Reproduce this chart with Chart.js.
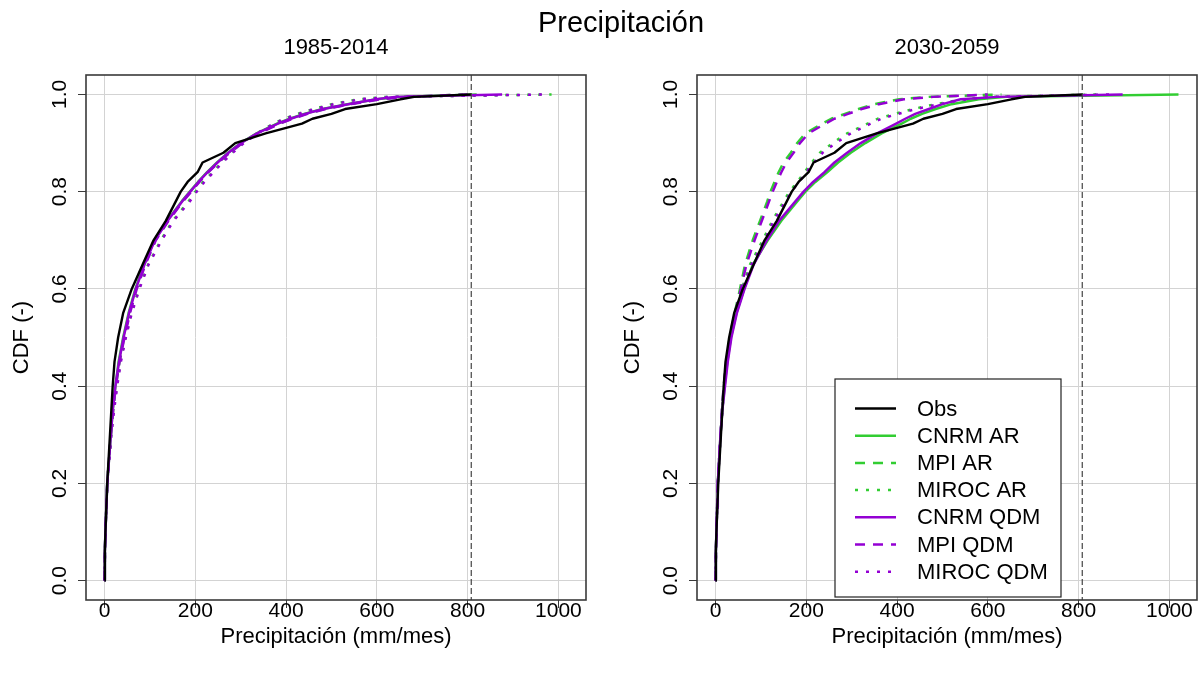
<!DOCTYPE html>
<html>
<head>
<meta charset="utf-8">
<script src="https://cdn.jsdelivr.net/npm/chart.js@4.4.1/dist/chart.umd.min.js"></script>
<style>
  body { margin: 0; background: #fff; font-family: "Liberation Sans", Arial, sans-serif; }
  #wrap { position: relative; width: 1200px; height: 679px; overflow: hidden; }
  .panel { position: absolute; top: 0; height: 679px; }
  #left { left: 0; width: 600px; }
  #right { left: 611px; width: 589px; }
  .ttl { position: absolute; transform: translate(-50%, -50%); white-space: nowrap; color: #000; }
</style>
</head>
<body>
<div id="wrap">
  <div class="panel" id="left"><canvas id="cLeft" width="600" height="679"></canvas></div>
  <div class="panel" id="right"><canvas id="cRight" width="589" height="679"></canvas></div>
  <div class="ttl" id="mainTitle" style="left:621px;top:22px;font-size:29px"></div>
  <div class="ttl" id="subLeft" style="left:336px;top:47px;font-size:22px"></div>
  <div class="ttl" id="subRight" style="left:947px;top:47px;font-size:22px"></div>
</div>
<script>
// ECDF of monthly precipitation, obs vs bias-corrected GCMs
const MAIN_TITLE = 'Precipitación';
const PANEL_TITLES = ['1985-2014', '2030-2059'];
const X_TITLE = 'Precipitación (mm/mes)';
const Y_TITLE = 'CDF (-)';
const X_TICKS = [0, 200, 400, 600, 800, 1000];
const Y_TICKS = [0, 0.2, 0.4, 0.6, 0.8, 1.0];
const SERIES_NAMES = ['Obs', 'CNRM AR', 'MPI AR', 'MIROC AR', 'CNRM QDM', 'MPI QDM', 'MIROC QDM'];

// cumulative probability levels; every series below gives precip (mm/mes) at these levels
const P = [0, 0.03, 0.06, 0.1, 0.15, 0.2, 0.25, 0.3, 0.35, 0.4, 0.45, 0.5, 0.55, 0.6, 0.65, 0.7, 0.74, 0.78,
           0.8, 0.82, 0.84, 0.86, 0.88, 0.9, 0.92, 0.94, 0.95, 0.96, 0.97, 0.98, 0.99, 0.995, 1.0];

// observations (same in both panels)
const OBS = [0, 0.5, 1, 2, 4, 6, 9, 12, 15, 18, 22, 30, 41, 60, 84, 108, 135, 157,
             168, 183, 205, 216, 262, 288, 355, 435, 458, 500, 530, 600, 652, 682, 808];

// 1985-2014
const H_CNRM_AR  = [0, 0.5, 1, 2, 4, 6, 10, 14, 18, 24, 31, 41, 53, 68, 87, 110, 138, 170,
                    188, 206, 226, 248, 272, 300, 335, 380, 408, 440, 480, 535, 600, 650, 820];
const H_MPI_AR   = [0, 0.5, 1, 2, 4, 6, 10, 14, 19, 25, 33, 43, 55, 70, 89, 112, 140, 172,
                    190, 208, 228, 250, 275, 303, 338, 385, 412, 445, 485, 540, 605, 660, 790];
const H_MIROC_AR = [0, 0.5, 1, 2, 4, 6.5, 11, 15, 20, 27, 35, 46, 59, 76, 96, 124, 150, 185,
                    200, 217, 238, 258, 280, 305, 335, 372, 395, 425, 460, 500, 560, 620, 985];
const H_CNRM_QDM = [0, 0.5, 1, 2, 4, 6, 10, 14, 18, 24, 32, 42, 54, 69, 88, 111, 139, 171,
                    189, 207, 227, 249, 273, 301, 336, 382, 410, 442, 482, 537, 598, 640, 876];
const H_MPI_QDM  = [0, 0.5, 1, 2, 4, 6, 10, 14, 19, 25, 33, 44, 56, 71, 90, 113, 141, 173,
                    191, 209, 229, 251, 276, 304, 340, 387, 414, 447, 487, 542, 608, 662, 800];
const H_MIROC_QDM= [0, 0.5, 1, 2, 4, 6.5, 11, 15, 21, 28, 36, 47, 60, 77, 97, 126, 152, 188,
                    203, 220, 240, 260, 282, 307, 337, 374, 397, 428, 462, 505, 565, 625, 980];

// 2030-2059
const F_CNRM_AR  = [0, 0.5, 1, 2, 3.5, 5, 8, 11, 15, 20, 26, 34, 46, 63, 82, 115, 145, 180,
                    198, 220, 246, 270, 298, 330, 366, 410, 430, 455, 485, 520, 580, 640, 1020];
const F_MPI_AR   = [0, 0.5, 1, 2, 3.5, 5, 8, 11, 14, 18, 24, 31, 42, 54, 65, 82, 98, 114,
                    121, 130, 139, 150, 166, 180, 198, 235, 255, 285, 315, 350, 405, 470, 630];
const F_MIROC_AR = [0, 0.5, 1, 2, 3.5, 5, 8, 11, 15, 19, 25, 33, 44, 58, 76, 104, 125, 150,
                    163, 180, 196, 212, 230, 258, 290, 335, 357, 395, 435, 485, 545, 600, 850];
const F_CNRM_QDM = [0, 0.5, 1, 2, 3.5, 5, 8, 11, 15, 21, 27, 35, 47, 64, 84, 113, 140, 176,
                    194, 215, 240, 262, 290, 320, 356, 398, 418, 440, 470, 500, 540, 620, 897];
const F_MPI_QDM  = [0, 0.5, 1, 2, 3.5, 5, 8, 11, 14, 18, 24, 32, 43, 56, 68, 86, 102, 118,
                    126, 135, 145, 156, 172, 186, 205, 242, 262, 292, 322, 360, 415, 480, 600];
const F_MIROC_QDM= [0, 0.5, 1, 2, 3.5, 5, 8, 11, 15, 19, 25, 33, 45, 60, 79, 108, 128, 154,
                    167, 184, 200, 217, 236, 265, 298, 342, 365, 402, 442, 492, 555, 610, 880];

const OBS_MAX = OBS[OBS.length - 1];   // dashed vertical marker

(function () {
  const GREEN = '#32cd32';
  const PURPLE = '#9400d3';
  const DASH = [10, 8];
  const DOT = [3, 8];
  const STYLES = [
    { color: '#000000', dash: [], width: 2.4, order: 1 },
    { color: GREEN, dash: [], width: 2.5, order: 3 },
    { color: GREEN, dash: DASH, width: 2.5, order: 3 },
    { color: GREEN, dash: DOT, width: 2.5, order: 3 },
    { color: PURPLE, dash: [], width: 2.5, order: 2 },
    { color: PURPLE, dash: DASH, width: 2.5, order: 2 },
    { color: PURPLE, dash: DOT, width: 2.5, order: 2 }
  ];
  const FONT = "'Liberation Sans', Arial, sans-serif";
  Chart.defaults.font.family = FONT;
  Chart.defaults.color = '#000';

  document.getElementById('mainTitle').textContent = MAIN_TITLE;
  document.getElementById('subLeft').textContent = PANEL_TITLES[0];
  document.getElementById('subRight').textContent = PANEL_TITLES[1];

  function datasets(seriesList) {
    return seriesList.map((xs, i) => ({
      label: SERIES_NAMES[i],
      data: P.map((p, k) => ({ x: xs[k], y: p })),
      borderColor: STYLES[i].color,
      borderWidth: STYLES[i].width,
      borderDash: STYLES[i].dash,
      borderCapStyle: 'butt',
      borderJoinStyle: 'round',
      pointRadius: 0,
      tension: 0,
      fill: false,
      order: STYLES[i].order
    }));
  }

  // dashed marker at obs max + the full R-style box
  const boxPlugin = {
    id: 'rbox',
    afterDatasetsDraw(chart) {
      const { ctx, chartArea: a, scales: { x } } = chart;
      const px = x.getPixelForValue(OBS_MAX);
      ctx.save();
      ctx.strokeStyle = '#444';
      ctx.lineWidth = 1.2;
      ctx.setLineDash([6, 3]);
      ctx.beginPath(); ctx.moveTo(px, a.top); ctx.lineTo(px, a.bottom); ctx.stroke();
      ctx.setLineDash([]);
      ctx.strokeStyle = '#3a3a3a';
      ctx.lineWidth = 1.6;
      ctx.strokeRect(a.left, a.top, a.right - a.left, a.bottom - a.top);
      ctx.restore();
    }
  };

  // boxed legend inside the right panel
  const legendPlugin = {
    id: 'rlegend',
    afterDraw(chart) {
      const { ctx, chartArea: a } = chart;
      const L = a.left + 138, T = a.top + 304, W = 226, H = 218;
      ctx.save();
      ctx.fillStyle = '#fff';
      ctx.fillRect(L, T, W, H);
      ctx.strokeStyle = '#222';
      ctx.lineWidth = 1.2;
      ctx.strokeRect(L, T, W, H);
      ctx.font = '22px ' + FONT;
      ctx.textBaseline = 'middle';
      ctx.textAlign = 'left';
      chart.data.datasets.forEach((d, i) => {
        const y = T + 29.5 + i * 27.2;
        ctx.strokeStyle = d.borderColor;
        ctx.lineWidth = d.borderWidth;
        ctx.setLineDash(d.borderDash);
        ctx.beginPath(); ctx.moveTo(L + 20, y); ctx.lineTo(L + 61, y); ctx.stroke();
        ctx.setLineDash([]);
        ctx.fillStyle = '#000';
        ctx.fillText(d.label, L + 82, y + 1);
      });
      ctx.restore();
    }
  };

  function makePanel(id, seriesList, padRight, withLegend) {
    return new Chart(document.getElementById(id), {
      type: 'line',
      data: { datasets: datasets(seriesList) },
      plugins: withLegend ? [boxPlugin, legendPlugin] : [boxPlugin],
      options: {
        responsive: false,
        animation: false,
        layout: { padding: { left: 0, right: padRight, top: 75, bottom: 0 } },
        plugins: { legend: { display: false }, tooltip: { enabled: false }, title: { display: false } },
        scales: {
          x: {
            type: 'linear',
            min: -40.8, max: 1060.8,
            afterBuildTicks: s => { s.ticks = X_TICKS.map(v => ({ value: v })); },
            afterFit: s => { s.height = 79; },
            border: { display: false },
            grid: { color: '#d3d3d3', lineWidth: 1, tickColor: '#3a3a3a', tickLength: 8 },
            ticks: {
              font: { size: 21, lineHeight: 1 }, padding: -7, maxRotation: 0, autoSkip: false,
              callback: v => String(v)
            },
            title: { display: true, text: X_TITLE, font: { size: 22 }, padding: { top: 0, bottom: 28.8 } }
          },
          y: {
            type: 'linear',
            min: -0.04, max: 1.04,
            afterBuildTicks: s => { s.ticks = Y_TICKS.map(v => ({ value: v })); },
            afterFit: s => { s.width = 86; },
            border: { display: false },
            grid: { color: '#d3d3d3', lineWidth: 1, tickColor: '#3a3a3a', tickLength: 8 },
            ticks: {
              font: { size: 21 }, padding: 3, minRotation: 90, crossAlign: 'center', autoSkip: false,
              callback: v => v.toFixed(1)
            },
            title: { display: true, text: Y_TITLE, font: { size: 22 }, padding: { top: 8.8, bottom: 0 } }
          }
        }
      }
    });
  }

  makePanel('cLeft', [OBS, H_CNRM_AR, H_MPI_AR, H_MIROC_AR, H_CNRM_QDM, H_MPI_QDM, H_MIROC_QDM], 14, false);
  makePanel('cRight', [OBS, F_CNRM_AR, F_MPI_AR, F_MIROC_AR, F_CNRM_QDM, F_MPI_QDM, F_MIROC_QDM], 3, true);
})();
</script>
</body>
</html>
